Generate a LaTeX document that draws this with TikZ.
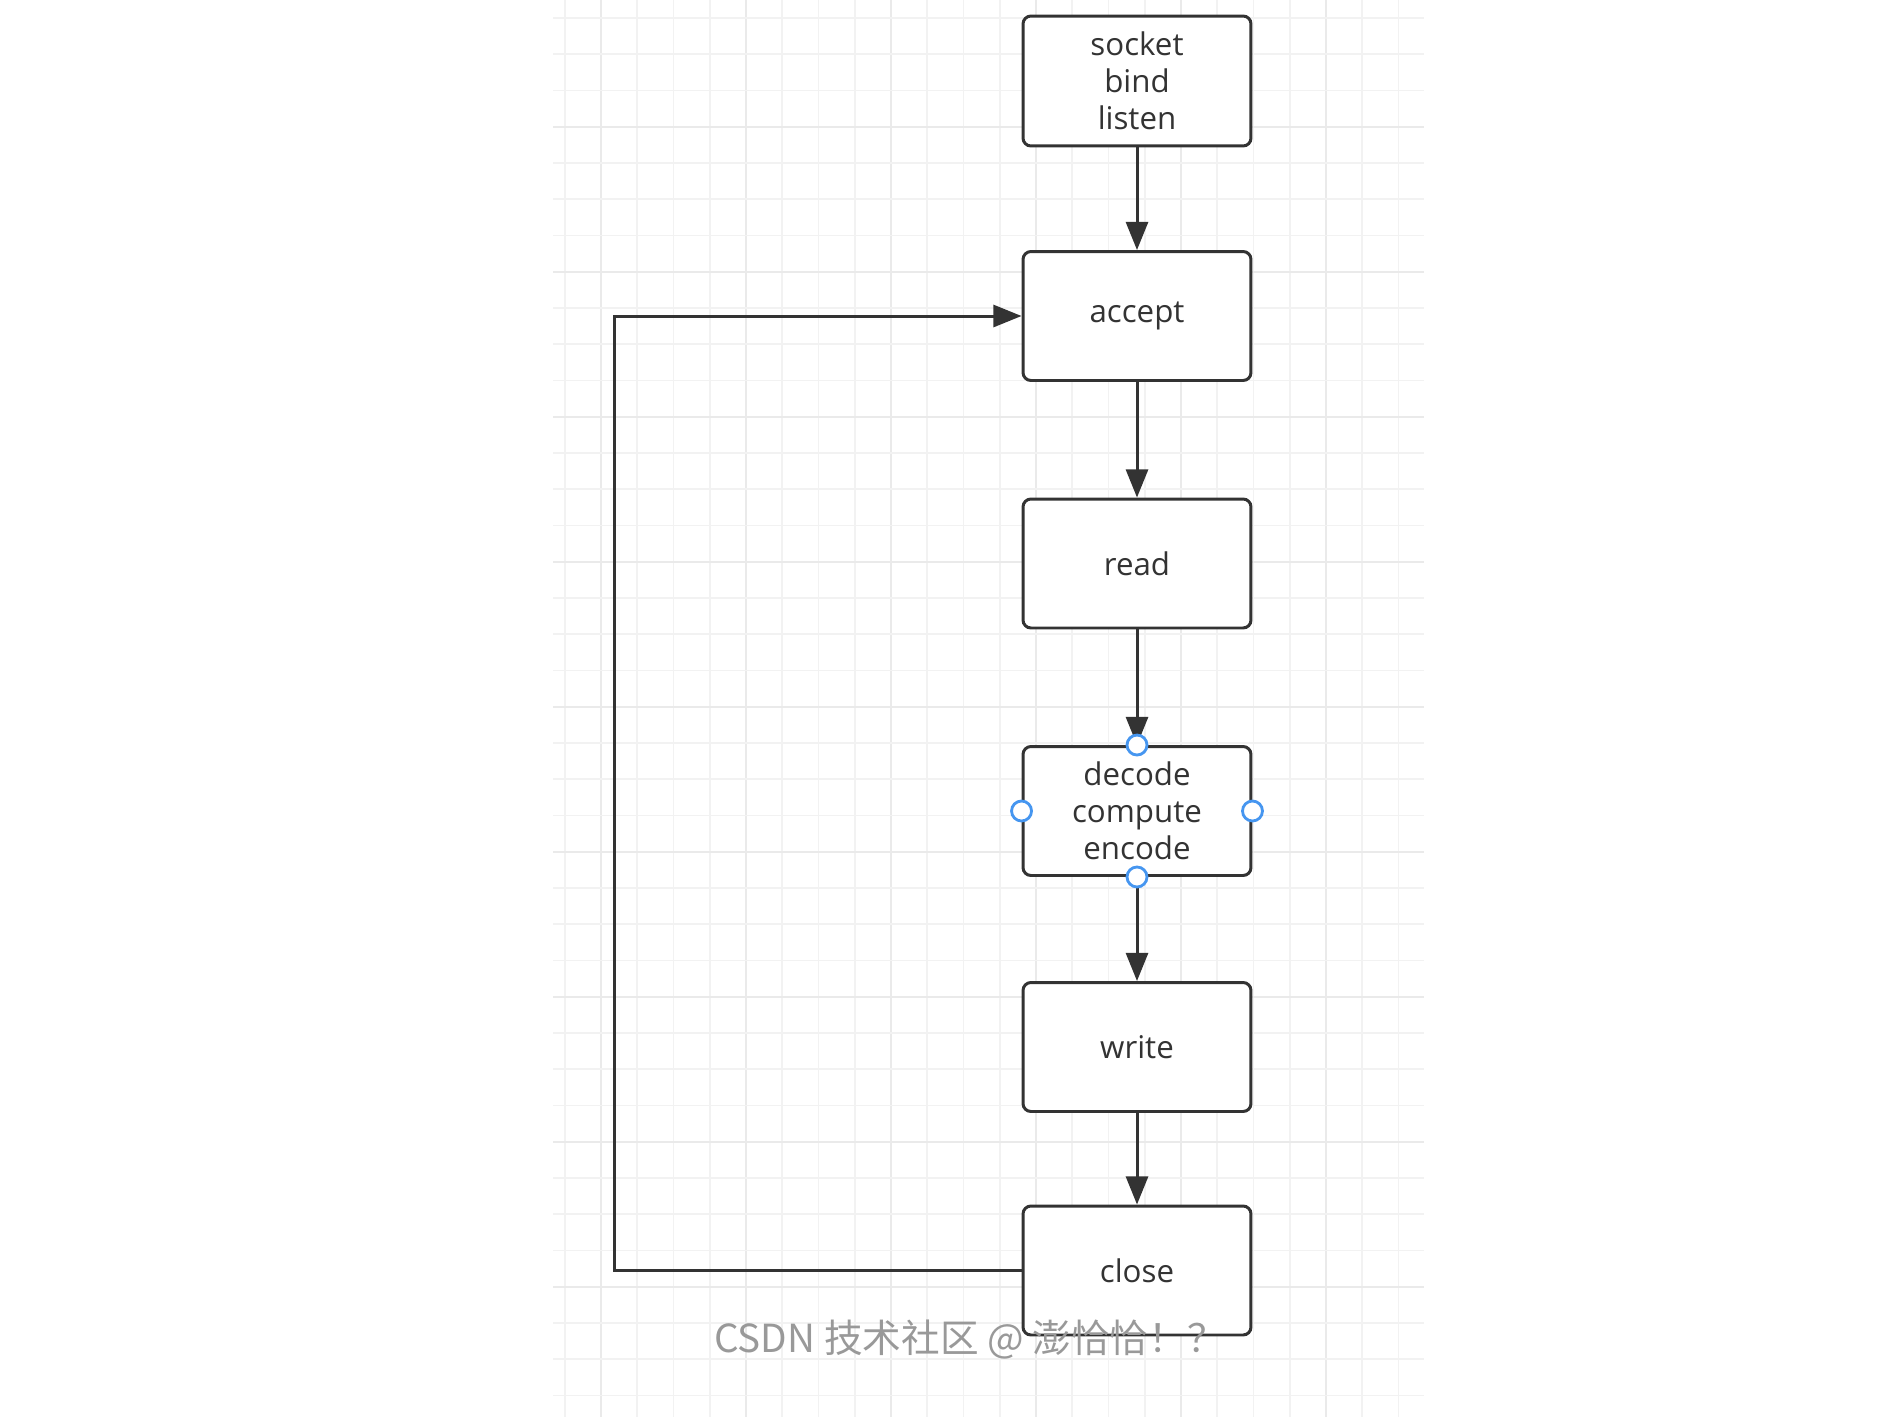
\documentclass[tikz,border=0pt]{standalone}
\usepackage{fontspec}
\setmainfont{Open Sans}
\newfontfamily\cjkfont{Noto Sans CJK SC}
\usetikzlibrary{arrows.meta}
\definecolor{boxline}{HTML}{333333}
\definecolor{textc}{HTML}{333333}
\definecolor{gridminor}{HTML}{F2F2F2}
\definecolor{gridmajor}{HTML}{EAEAEA}
\definecolor{handleblue}{RGB}{70,150,240}
\definecolor{wmark}{HTML}{999999}
\begin{document}
\begin{tikzpicture}[x=0.02cm,y=-0.02cm,
  box/.style={draw=boxline, line width=1.7pt, rounded corners=4.5pt, fill=white,
    minimum width=4.56cm, minimum height=2.58cm, align=center,
    font=\fontsize{17.8}{21}\selectfont, text=textc, inner sep=0pt},
  flow/.style={draw=boxline, line width=1.7pt, -{Triangle[length=16pt,width=12.5pt]}},
  handle/.style={circle, draw=handleblue, fill=white, line width=1.6pt,
    minimum size=0.40cm, inner sep=0pt}]
\useasboundingbox (0,0) rectangle (1890,1417);
\fill[white] (0,0) rectangle (1890,1417);
% grid
\foreach \i in {0,...,23}{
  \pgfmathtruncatemacro{\m}{mod(\i+3,4)}
  \ifnum\m=0
    \draw[gridmajor, line width=1.2pt] ({564.75+36.25*\i},0) -- ({564.75+36.25*\i},1417);
  \else
    \draw[gridminor, line width=1pt] ({564.75+36.25*\i},0) -- ({564.75+36.25*\i},1417);
  \fi
}
\foreach \j in {0,...,38}{
  \pgfmathtruncatemacro{\m}{mod(\j+1,4)}
  \ifnum\m=0
    \draw[gridmajor, line width=1.2pt] (553,{18+36.25*\j}) -- (1424,{18+36.25*\j});
  \else
    \draw[gridminor, line width=1pt] (553,{18+36.25*\j}) -- (1424,{18+36.25*\j});
  \fi
}
% nodes
\node[box, minimum height=2.6cm] (sock) at (1137,81) {socket\\bind\\listen};
\node[box] (acc) at (1137,316) {accept};
\node[box] (rd) at (1137,563.5) {read};
\node[box] (dec) at (1137,811) {decode\\compute\\encode};
\node[box] (wr) at (1137,1047) {write};
\node[box] (cl) at (1137,1270.5) {close};
\coordinate (lp) at (614,1270.5);
% connectors
\draw[flow] (sock) -- (acc);
\draw[flow] (acc) -- (rd);
\draw[flow] (rd) -- (dec);
\draw[flow] (dec) -- (wr);
\draw[flow] (wr) -- (cl);
\draw[flow] (cl.west) -- (lp) |- (acc.west);
% handles
\node[handle] (hn) at (dec.north) {};
\node[handle] (hs) at (dec.south) {};
\node[handle] (hw) at (dec.west) {};
\node[handle] (he) at (dec.east) {};
% watermark
\node[text=wmark, font=\cjkfont\fontsize{22}{24}\selectfont, inner sep=0pt] (wm) at (970,1340) {CSDN 技术社区 @ 澎恰恰！？};
\end{tikzpicture}
\end{document}
